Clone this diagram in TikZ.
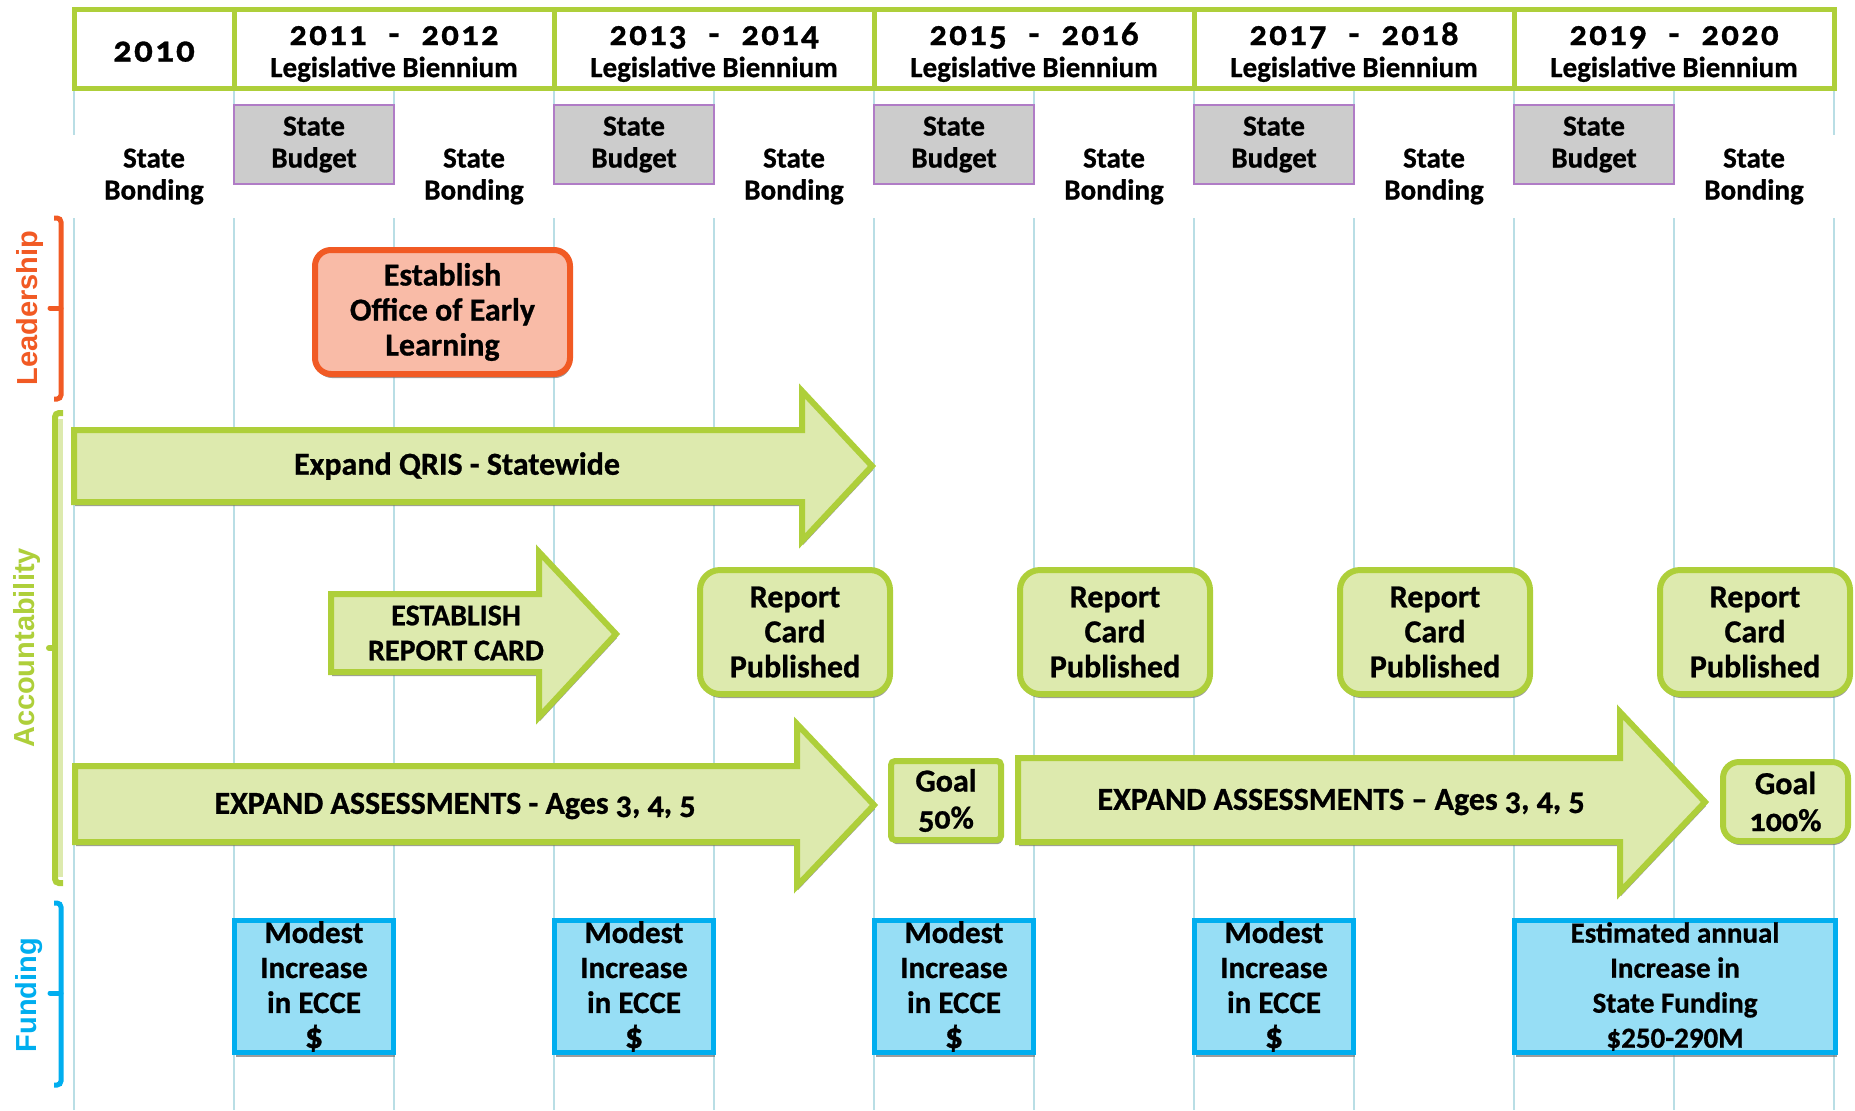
\documentclass[tikz,border=0pt]{standalone}
\usepackage{fontspec}
\setmainfont{Carlito}[Numbers=OldStyle,BoldFeatures={FakeBold=0.8}]
\newfontfamily\yearfont{Carlito}[Numbers=OldStyle,LetterSpace=6,BoldFeatures={FakeBold=0.8}]
\newfontfamily\liningfont{Carlito}[Numbers=Lining,BoldFeatures={FakeBold=0.8}]
\newfontfamily\sidefont{Liberation Sans}
\usetikzlibrary{shadows}

\definecolor{lime}{RGB}{174,207,58}
\definecolor{palelime}{RGB}{221,234,174}
\definecolor{leadorange}{RGB}{241,90,36}
\definecolor{salmon}{RGB}{249,187,167}
\definecolor{fundcyan}{RGB}{0,174,239}
\definecolor{fundblue}{RGB}{151,222,245}
\definecolor{gridblue}{RGB}{185,222,229}
\definecolor{budgetgray}{RGB}{204,204,204}
\definecolor{budgetpurple}{RGB}{176,124,198}

\begin{document}
\begin{tikzpicture}
  [x=0.5pt, y=-0.5pt, align=center, inner sep=0pt,
    font=\fontsize{16}{17.5}\selectfont\bfseries,
    gridline/.style={draw=gridblue, line width=0.8pt},
    yearbox/.style={%
      rectangle, draw=lime, fill=white, line width=2.5pt,
      minimum width=80pt, minimum height=39.5pt
    },
    biennium/.style={%
      yearbox, minimum width=160pt,
      font=\fontsize{14.5}{16}\selectfont\bfseries
    },
    budget/.style={%
      rectangle, draw=budgetpurple, fill=budgetgray, line width=0.6pt,
      minimum width=80pt, minimum height=39.5pt,
      font=\fontsize{14.5}{16}\selectfont\bfseries,
      execute at begin node=\rule{0pt}{11.7pt}
    },
    bonding/.style={%
      rectangle, fill=white, minimum width=82pt, minimum height=41.5pt,
      font=\fontsize{14.5}{16}\selectfont\bfseries,
      execute at begin node=\rule{0pt}{12.2pt}
    },
    boxshadow/.style={%
      drop shadow={shadow xshift=0.5pt, shadow yshift=-2pt,
        fill=black!55, opacity=0.7}
    },
    leader/.style={%
      rectangle, rounded corners=8pt, draw=leadorange, fill=salmon,
      line width=3pt, minimum width=127.5pt, minimum height=62pt, boxshadow,
      execute at begin node=\rule{0pt}{15pt}
    },
    reportcard/.style={%
      rectangle, rounded corners=10pt, draw=lime, fill=palelime,
      line width=3pt, minimum width=95pt, minimum height=62pt, boxshadow
    },
    goal/.style={%
      rectangle, rounded corners=#1, draw=lime, fill=palelime,
      line width=3pt, minimum height=39.5pt, boxshadow,
      font=\fontsize{16}{18.5}\selectfont\bfseries
    },
    funding/.style={%
      rectangle, draw=fundcyan, fill=fundblue, line width=2.5pt,
      minimum width=79.5pt, minimum height=66pt, boxshadow,
      font=\fontsize{15.5}{17.5}\selectfont\bfseries\liningfont
    },
    bigarrow/.style={%
      draw=lime, fill=palelime, line width=3pt, line join=miter, boxshadow
    },
    sidelabel/.style={%
      rotate=90, text=#1, font=\fontsize{14.5}{16}\selectfont\sidefont\bfseries
    },
    bracket/.style={%
      draw=#1, line width=2.5pt, rounded corners=2pt
    },
  ]

  \useasboundingbox (0,0) rectangle (1855,1110);

  % columns
  \foreach \i in {0,...,11}
    \draw[gridline] ({74+160*\i},91) -- ({74+160*\i},1110);

  \foreach \i in {0,2,...,10}
    \node[bonding] (bond\i) at ({154+160*\i},176.5) {State\\Bonding};
  \foreach \i in {1,3,...,9}
    \node[budget] (bud\i) at ({154+160*\i},144.5) {State\\Budget};

  % header
  \node[yearbox] (y2010) at (154,49)
    {\fontsize{18.5}{20}\selectfont\yearfont\rule{0pt}{12.7pt}2010};
  \node[biennium] (y2011) at (394,49)
    {{\fontsize{17.5}{16}\selectfont\yearfont\rule{0pt}{14.5pt}2011\hspace{11pt}-\hspace{11pt}2012}\\Legislative Biennium};
  \node[biennium] (y2013) at (714,49)
    {{\fontsize{17.5}{16}\selectfont\yearfont\rule{0pt}{14.5pt}2013\hspace{11pt}-\hspace{11pt}2014}\\Legislative Biennium};
  \node[biennium] (y2015) at (1034,49)
    {{\fontsize{17.5}{16}\selectfont\yearfont\rule{0pt}{14.5pt}2015\hspace{11pt}-\hspace{11pt}2016}\\Legislative Biennium};
  \node[biennium] (y2017) at (1354,49)
    {{\fontsize{17.5}{16}\selectfont\yearfont\rule{0pt}{14.5pt}2017\hspace{11pt}-\hspace{11pt}2018}\\Legislative Biennium};
  \node[biennium] (y2019) at (1674,49)
    {{\fontsize{17.5}{16}\selectfont\yearfont\rule{0pt}{14.5pt}2019\hspace{11pt}-\hspace{11pt}2020}\\Legislative Biennium};

  % side brackets
  \draw[bracket=leadorange] (54,218) -- (61,218) -- (61,399) -- (54,399);
  \draw[bracket=leadorange, line cap=round] (61,308) -- (50,308);
  \node[sidelabel=leadorange] (lead) at (30,308) {Leadership};

  \draw[bracket=lime, line width=3pt] (63,413) -- (55,413) -- (55,883) -- (63,883);
  \draw[draw=palelime, line width=2.5pt] (60.5,419) -- (60.5,877);
  \draw[bracket=lime, line width=3pt, line cap=round] (55,648) -- (49,648);
  \node[sidelabel=lime] (acc) at (27,648) {Accountability};

  \draw[bracket=fundcyan] (54,903) -- (61,903) -- (61,1085) -- (54,1085);
  \draw[bracket=fundcyan, line cap=round] (61,993) -- (50,993);
  \node[sidelabel=fundcyan] (fund) at (29,995) {Funding};

  % leadership
  \node[leader] (oel) at (442.5,312) {Establish\\Office of Early\\Learning};

  % accountability
  \draw[bigarrow] (74,430) -- (802,430) -- (802,391) -- (872,466)
    -- (802,541) -- (802,502) -- (74,502) -- cycle;
  \node (qris) at (457,466) {Expand QRIS - Statewide};

  \draw[bigarrow] (331,594) -- (539,594) -- (539,552) -- (616,634)
    -- (539,717) -- (539,672) -- (331,672) -- cycle;
  \node (estrc) at (456,633) [font=\fontsize{15}{17.5}\selectfont\bfseries]
    {ESTABLISH\\REPORT CARD};

  \node[reportcard] (rc1) at (795,632) {Report\\Card\\Published};
  \node[reportcard] (rc2) at (1115,632) {Report\\Card\\Published};
  \node[reportcard] (rc3) at (1435,632) {Report\\Card\\Published};
  \node[reportcard] (rc4) at (1755,632) {Report\\Card\\Published};

  \draw[bigarrow] (75,766) -- (797,766) -- (797,724) -- (874,805)
    -- (797,886) -- (797,842) -- (75,842) -- cycle;
  \node (assess1) at (455,806) {EXPAND ASSESSMENTS - Ages 3, 4, 5};

  \node[goal=2pt, minimum width=55pt] (goal50) at (946,800.5) {Goal\\50\%};

  \draw[bigarrow] (1018,758) -- (1620,758) -- (1620,712) -- (1705,802)
    -- (1620,892) -- (1620,842) -- (1018,842) -- cycle;
  \node (assess2) at (1341,802) {EXPAND ASSESSMENTS -- Ages 3, 4, 5};

  \node[goal=8pt, minimum width=62.5pt] (goal100) at (1785.5,801.5) {Goal\\100\%};

  % funding
  \node[funding] (ecce1) at (314,986.5) {Modest\\Increase\\in ECCE\\{\fontsize{18}{17.5}\selectfont\$}};
  \node[funding] (ecce2) at (634,986.5) {Modest\\Increase\\in ECCE\\{\fontsize{18}{17.5}\selectfont\$}};
  \node[funding] (ecce3) at (954,986.5) {Modest\\Increase\\in ECCE\\{\fontsize{18}{17.5}\selectfont\$}};
  \node[funding] (ecce4) at (1274,986.5) {Modest\\Increase\\in ECCE\\{\fontsize{18}{17.5}\selectfont\$}};
  \node[funding, minimum width=160.5pt] (est) at (1675,986.5)
    [font=\fontsize{14.5}{17.5}\selectfont\bfseries\liningfont]
    {Estimated annual\\Increase in\\State Funding\\\$250-290M};

\end{tikzpicture}
\end{document}
